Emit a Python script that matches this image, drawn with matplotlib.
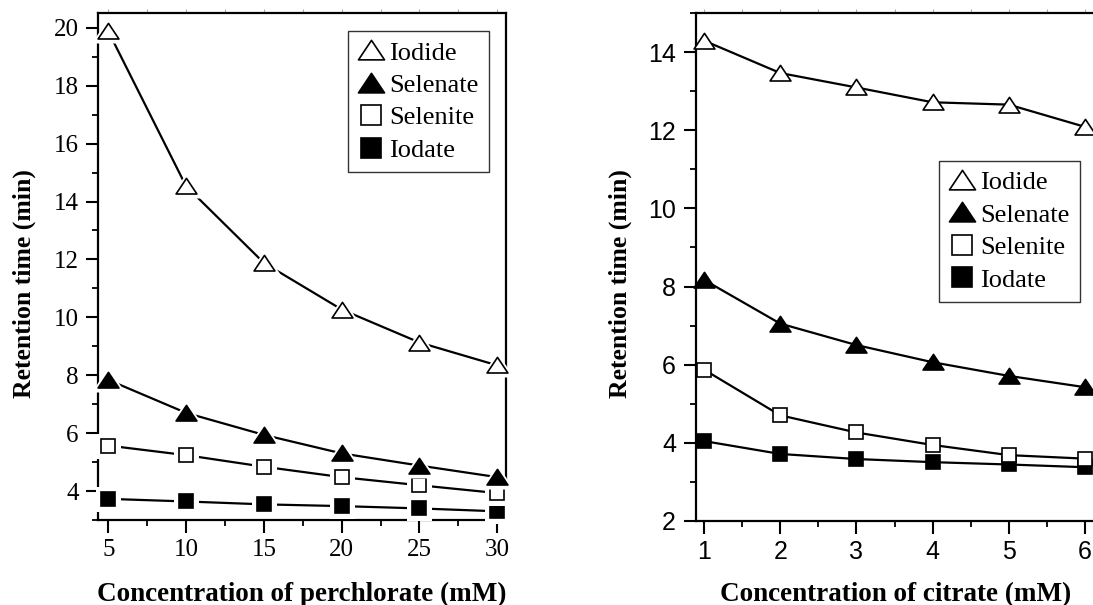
import matplotlib
matplotlib.use("Agg")
import matplotlib.pyplot as plt
from matplotlib.lines import Line2D
from matplotlib.path import Path
from matplotlib.ticker import MultipleLocator, NullFormatter

# ---------------- data ----------------
series_names = ["Iodide", "Selenate", "Selenite", "Iodate"]

perchlorate_mM = [5, 10, 15, 20, 25, 30]
perc_iodide = [19.88, 14.53, 11.88, 10.27, 9.13, 8.34]
perc_selenate = [7.84, 6.70, 5.94, 5.30, 4.88, 4.48]
perc_selenite = [5.57, 5.24, 4.84, 4.48, 4.20, 3.93]
perc_iodate = [3.73, 3.64, 3.54, 3.48, 3.40, 3.30]

citrate_mM = [1, 2, 3, 4, 5, 6]
cit_iodide = [14.30, 13.47, 13.10, 12.72, 12.66, 12.09]
cit_selenate = [8.17, 7.05, 6.50, 6.06, 5.71, 5.42]
cit_selenite = [5.87, 4.70, 4.26, 3.94, 3.68, 3.59]
cit_iodate = [4.04, 3.71, 3.58, 3.50, 3.44, 3.37]

left_xticks = [5, 10, 15, 20, 25, 30]
left_yticks = [4, 6, 8, 10, 12, 14, 16, 18, 20]
right_xticks = [1, 2, 3, 4, 5, 6]
right_yticks = [2, 4, 6, 8, 10, 12, 14]

xlabel_left = "Concentration of perchlorate (mM)"
xlabel_right = "Concentration of citrate (mM)"
ylabel = "Retention time (min)"

# ---------------- styles ----------------
SERIF = "Liberation Serif"
SANS = "Liberation Sans"
W, H = 1093, 605
fig = plt.figure(figsize=(W / 100, H / 100), dpi=100)

wide_tri = Path([(0, 0.78), (-1, -0.72), (1, -0.72), (0, 0.78)],
                [Path.MOVETO, Path.LINETO, Path.LINETO, Path.CLOSEPOLY])
styles = {
    "Iodide": dict(marker=wide_tri, mfc="white", ms=15),
    "Selenate": dict(marker=wide_tri, mfc="black", ms=15),
    "Selenite": dict(marker="s", mfc="white", ms=10),
    "Iodate": dict(marker="s", mfc="black", ms=10),
}


def px_ax(x0, x1, y0, y1):
    return fig.add_axes([x0 / W, 1 - y1 / H, (x1 - x0) / W, (y1 - y0) / H])


def draw_panel(ax, x, ys, gap):
    order = ["Iodate", "Selenite", "Selenate", "Iodide"]
    for z, name in enumerate(order):
        y = ys[name]
        st = styles[name]
        ax.plot(x, y, color="black", lw=1.6, zorder=2 + 3 * z, clip_on=False)
        if gap:
            extra = 9 if st["marker"] is wide_tri else 8
            ax.plot(x, y, linestyle="none", marker=st["marker"], ms=st["ms"] + extra,
                    mfc="white", mec="white", mew=0, zorder=3 + 3 * z, clip_on=False)
        ax.plot(x, y, linestyle="none", marker=st["marker"], ms=st["ms"],
                mfc=st["mfc"], mec="black", mew=1.2, zorder=4 + 3 * z, clip_on=False)


def style_axes(ax, tickfont, top_step):
    for s in ax.spines.values():
        s.set_linewidth(1.6)
    ax.tick_params(which="major", direction="out", length=9, width=1.5,
                   labelsize=18, pad=5, top=False, right=False)
    ax.tick_params(which="minor", direction="out", length=4.5, width=1.3,
                   top=False, right=False)
    for lab in ax.get_xticklabels() + ax.get_yticklabels():
        lab.set_fontfamily(tickfont)
        lab.set_fontsize(18)
    sec = ax.secondary_xaxis("top")
    sec.xaxis.set_major_locator(MultipleLocator(top_step))
    sec.xaxis.set_major_formatter(NullFormatter())
    sec.tick_params(direction="out", length=3, width=0.8, color="#aaaaaa")
    sec.spines["top"].set_visible(False)


def add_legend(ax, loc_px, axbox):
    handles = []
    for name in series_names:
        st = styles[name]
        ms = st["ms"] * (1.25 if st["marker"] is wide_tri else 1.45)
        handles.append(Line2D([], [], linestyle="none", marker=st["marker"], ms=ms,
                              mfc=st["mfc"], mec="black", mew=1.2))
    x0, y0 = loc_px
    ax0, ax1, ay0, ay1 = axbox
    leg = ax.legend(handles, series_names, loc="upper left",
                    bbox_to_anchor=((x0 - ax0) / (ax1 - ax0), (ay1 - y0) / (ay1 - ay0)),
                    prop={"family": SERIF, "size": 19}, frameon=True, fancybox=False,
                    edgecolor="#333333", framealpha=1, borderpad=0.38,
                    labelspacing=0.34, handletextpad=0.18, handlelength=1.0,
                    borderaxespad=0)
    leg.get_frame().set_linewidth(1.0)
    leg.set_zorder(30)


# ---------------- left panel ----------------
L = (98.3, 505.7, 13.3, 520.0)
axL = px_ax(*L)
draw_panel(axL, perchlorate_mM, {"Iodide": perc_iodide, "Selenate": perc_selenate,
                                 "Selenite": perc_selenite, "Iodate": perc_iodate}, gap=True)
axL.set_xlim(4.36, 30.54)
axL.set_ylim(3.0, 20.5)
axL.set_xticks(left_xticks)
axL.set_yticks(left_yticks)
axL.xaxis.set_minor_locator(MultipleLocator(2.5))
axL.yaxis.set_minor_locator(MultipleLocator(1))
style_axes(axL, SERIF, 2.5)
add_legend(axL, (348, 31), L)

# ---------------- right panel ----------------
R = (695.5, 695.5 + (6.12 - 0.888) * 76.2, 13.3, 520.7)
axR = px_ax(*R)
draw_panel(axR, citrate_mM, {"Iodide": cit_iodide, "Selenate": cit_selenate,
                             "Selenite": cit_selenite, "Iodate": cit_iodate}, gap=False)
axR.set_xlim(0.888, 6.12)
axR.set_ylim(2, 15)
axR.set_xticks(right_xticks)
axR.set_yticks(right_yticks)
axR.xaxis.set_minor_locator(MultipleLocator(0.5))
axR.yaxis.set_minor_locator(MultipleLocator(1))
style_axes(axR, SANS, 0.5)
add_legend(axR, (939, 160.7), R)

# ---------------- axis labels ----------------
lab_kw = dict(family=SERIF, weight="bold")
fig.text(301.5 / W, 1 - 601 / H, xlabel_left, ha="center", va="baseline", fontsize=19.5, **lab_kw)
fig.text(895.6 / W, 1 - 601 / H, xlabel_right, ha="center", va="baseline", fontsize=19.5, **lab_kw)
fig.text(24 / W, 1 - 284 / H, ylabel, ha="center", va="center", rotation=90, fontsize=18.5, **lab_kw)
fig.text(620 / W, 1 - 284 / H, ylabel, ha="center", va="center", rotation=90, fontsize=18.5, **lab_kw)

fig.savefig("out.png", dpi=100)
